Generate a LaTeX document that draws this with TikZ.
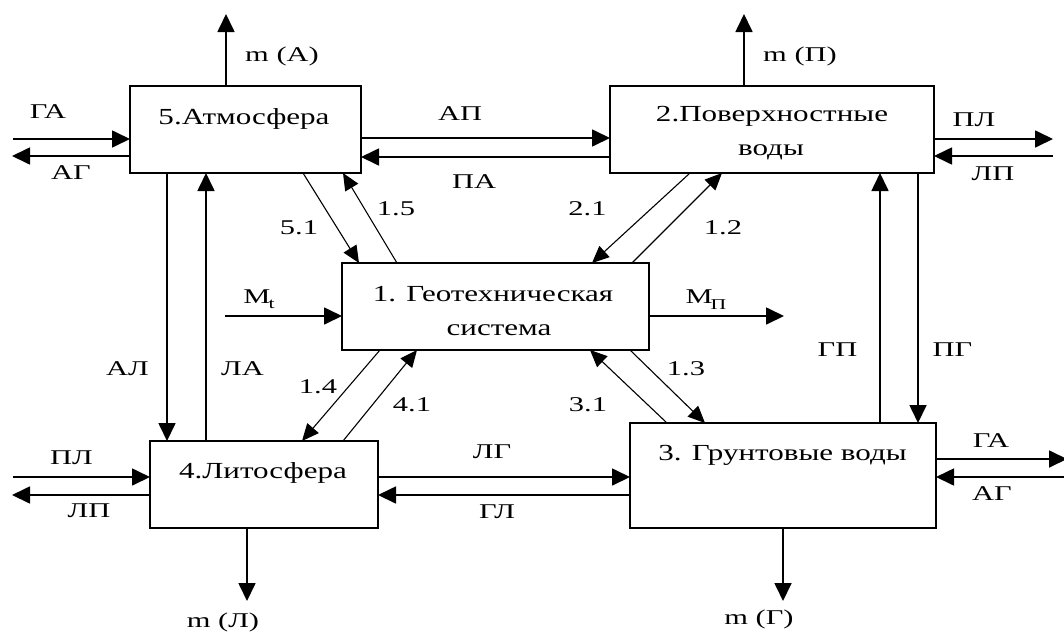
\documentclass[tikz,border=0pt]{standalone}
\usepackage{fontspec}
\setmainfont{Liberation Serif}[FakeStretch=1.35]
\newfontfamily\lblfamily{Liberation Serif}[FakeStretch=1.45]
\usetikzlibrary{arrows.meta,calc}

\begin{document}
\begin{tikzpicture}[x=1pt,y=-1pt,
  box/.style={draw, line width=1.7pt, inner sep=0pt, outer sep=0pt},
  flow/.style={line width=1.7pt, -{Triangle[length=18pt,width=17pt]}},
  link/.style={line width=1.1pt, -{Triangle[length=17pt,width=15pt]}},
  boxtext/.style={anchor=base, inner sep=0pt, font=\fontsize{23}{27}\selectfont},
  lbl/.style={anchor=base, inner sep=0pt, font=\lblfamily\fontsize{21}{25}\selectfont},
]
\useasboundingbox (0,0) rectangle (1064,632);

% ---- boxes
\node[box, minimum width=231, minimum height=87]  (A) at (245.5,129.5) {};
\node[box, minimum width=324, minimum height=87]  (P) at (772,129.5) {};
\node[box, minimum width=307, minimum height=87]  (G) at (495.5,306.5) {};
\node[box, minimum width=228, minimum height=87]  (L) at (264,484.5) {};
\node[box, minimum width=306, minimum height=105] (W) at (783,475.5) {};

% ---- box captions
\node[boxtext] (A-t)  at (244,124)   {5.Атмосфера};
\node[boxtext] (P-t1) at (772,121.5) {2.Поверхностные};
\node[boxtext] (P-t2) at (771,155)   {воды};
\node[boxtext] (G-t1) at (493,301.5) {1. Геотехническая};
\node[boxtext] (G-t2) at (499,335)   {система};
\node[boxtext] (L-t)  at (263,478)   {4.Литосфера};
\node[boxtext] (W-t)  at (782.5,460) {3. Грунтовые воды};

% ---- free ends
\coordinate (mA)  at (226,14);
\coordinate (mP)  at (744,14);
\coordinate (mL)  at (247,601);
\coordinate (mW)  at (783,601);
\coordinate (ga1) at (13,139);
\coordinate (ag1) at (12,156);
\coordinate (pl2) at (1053,139);
\coordinate (lp2) at (1053,156);
\coordinate (pl4) at (13,477);
\coordinate (lp4) at (12,495);
\coordinate (ga3) at (1067,459);
\coordinate (ag3) at (1066,477);
\coordinate (mt)  at (225,316);
\coordinate (mp)  at (784,316);

% ---- outflows m(...)
\draw[flow] ($(A.north)+(-19.5,0)$) -- (mA);
\draw[flow] ($(P.north)+(-28,0)$) -- (mP);
\draw[flow] ($(L.south)+(-17,0)$) -- (mL);
\draw[flow] (W.south) -- (mW);

% ---- atmosphere
\draw[flow] (ga1) -- ($(A.west)+(0,9.5)$);
\draw[flow] ($(A.west)+(0,26.5)$) -- (ag1);
\draw[flow] ($(A.east)+(0,8.5)$) -- ($(P.west)+(0,8.5)$);
\draw[flow] ($(P.west)+(0,27.5)$) -- ($(A.east)+(0,27.5)$);
\draw[flow] ($(A.south)+(-78.5,0)$) -- ($(L.north)+(-97,0)$);
\draw[flow] ($(L.north)+(-58,0)$) -- ($(A.south)+(-39.5,0)$);

% ---- surface water
\draw[flow] ($(P.east)+(0,9.5)$) -- (pl2);
\draw[flow] (lp2) -- ($(P.east)+(0,26.5)$);
\draw[flow] ($(W.north)+(97,0)$) -- ($(P.south)+(108,0)$);
\draw[flow] ($(P.south)+(146,0)$) -- ($(W.north)+(135,0)$);

% ---- lithosphere and groundwater
\draw[flow] (pl4) -- ($(L.west)+(0,-7.5)$);
\draw[flow] ($(L.west)+(0,10.5)$) -- (lp4);
\draw[flow] ($(L.east)+(0,-7.5)$) -- ($(W.west)+(0,1.5)$);
\draw[flow] ($(W.west)+(0,19.5)$) -- ($(L.east)+(0,10.5)$);
\draw[flow] ($(W.east)+(0,-16.5)$) -- (ga3);
\draw[flow] (ag3) -- ($(W.east)+(0,1.5)$);

% ---- geotechnical system
\draw[flow] (mt) -- ($(G.west)+(0,9.5)$);
\draw[flow] ($(G.east)+(0,9.5)$) -- (mp);

% ---- exchanges with the geotechnical system
\draw[link] ($(A.south)+(57.5,0)$) -- ($(G.north)+(-136.5,0)$);
\draw[link] ($(G.north)+(-98.5,0)$) -- ($(A.south)+(97.5,0)$);
\draw[link] ($(P.south)+(-82,0)$) -- ($(G.north)+(96.5,0)$);
\draw[link] ($(G.north)+(136.5,0)$) -- ($(P.south)+(-50,0)$);
\draw[link] ($(G.south)+(-115.5,0)$) -- ($(L.north)+(38,0)$);
\draw[link] ($(L.north)+(79,0)$) -- ($(G.south)+(-78.5,0)$);
\draw[link] ($(G.south)+(134.5,0)$) -- ($(W.north)+(-78,0)$);
\draw[link] ($(W.north)+(-116,0)$) -- ($(G.south)+(94.5,0)$);

% ---- flow labels
\node[lbl] (l-mA) at (282,61)   {m (А)};
\node[lbl] (l-mP) at (800,61.5) {m (П)};
\node[lbl] (l-mL) at (223,627)  {m (Л)};
\node[lbl] (l-mW) at (759,624)  {m (Г)};
\node[lbl] (l-ga1) at (48,118)  {ГА};
\node[lbl] (l-ag1) at (71,179)  {АГ};
\node[lbl] (l-ap)  at (460,120.5) {АП};
\node[lbl] (l-pa)  at (474,188) {ПА};
\node[lbl] (l-pl2) at (974,126.5) {ПЛ};
\node[lbl] (l-lp2) at (993,180) {ЛП};
\node[lbl] (l-al)  at (127.5,375) {АЛ};
\node[lbl] (l-la)  at (242.5,375) {ЛА};
\node[lbl] (l-pl4) at (71.5,464) {ПЛ};
\node[lbl] (l-lp4) at (89,517.5) {ЛП};
\node[lbl] (l-lg)  at (492,458) {ЛГ};
\node[lbl] (l-gl)  at (497,518) {ГЛ};
\node[lbl] (l-gp)  at (837.5,356.5) {ГП};
\node[lbl] (l-pg)  at (952.5,356.5) {ПГ};
\node[lbl] (l-ga3) at (991,447) {ГА};
\node[lbl] (l-ag3) at (992,500) {АГ};
\node[lbl] (l-mt)  at (259,303) {М\kern-2pt\raisebox{-5pt}{\fontsize{15}{15}\selectfont t}};
\node[lbl] (l-mp)  at (706,303) {М\kern-2pt\raisebox{-6pt}{\fontsize{15}{15}\selectfont П}};
\node[lbl] (l-51)  at (299,234) {5.1};
\node[lbl] (l-15)  at (396,215) {1.5};
\node[lbl] (l-21)  at (587.5,215) {2.1};
\node[lbl] (l-12)  at (723,234) {1.2};
\node[lbl] (l-14)  at (318,393) {1.4};
\node[lbl] (l-41)  at (412,411.5) {4.1};
\node[lbl] (l-13)  at (686,375) {1.3};
\node[lbl] (l-31)  at (588,411.5) {3.1};
\end{tikzpicture}
\end{document}
